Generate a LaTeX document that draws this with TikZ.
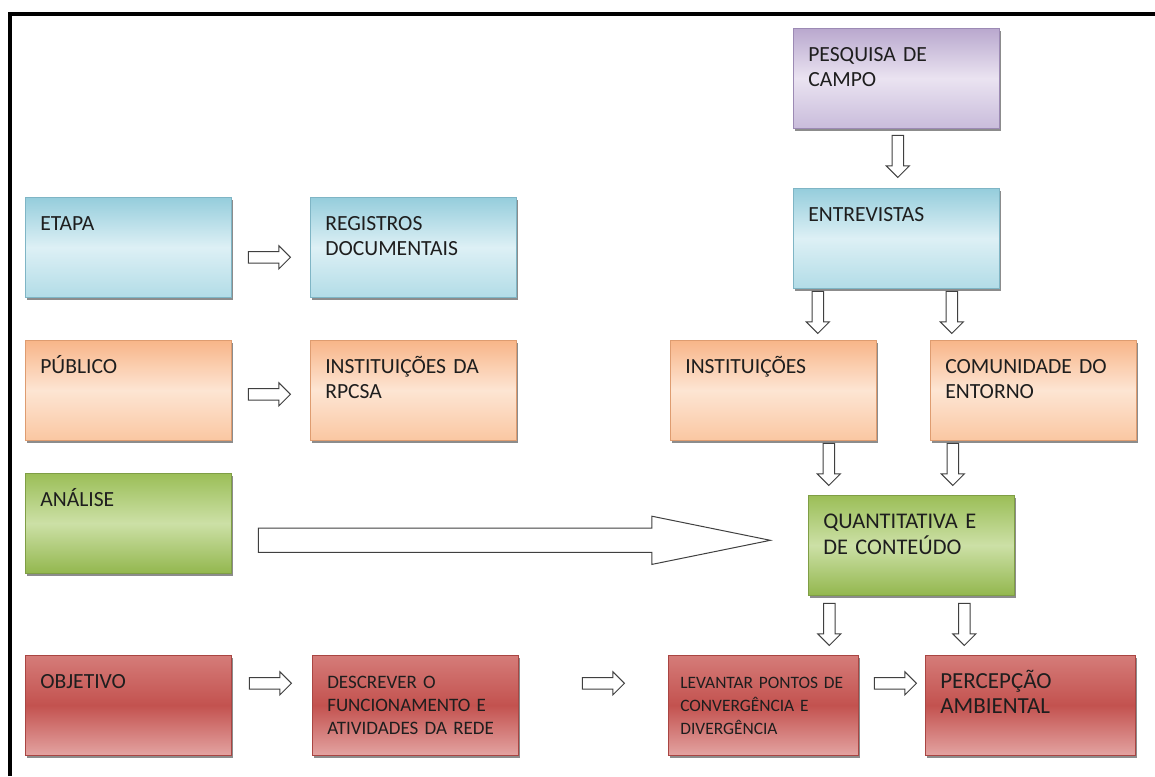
\documentclass[tikz,border=0pt]{standalone}
\usepackage{fontspec}
\setmainfont{Carlito}
\usetikzlibrary{shapes.arrows,shadows}

\definecolor{txtgrey}{HTML}{1E1E1E}
\definecolor{lineg}{HTML}{404040}

\tikzset{
	stage/.style={
			rectangle, anchor=north west, align=left,
			text width=88pt, inner xsep=7.5pt, inner ysep=9.5pt,
			text height=7pt, text depth=24pt,
			font=\fontsize{10.8}{12.5}\selectfont, text=txtgrey,
			line width=0.3pt,
			drop shadow={shadow xshift=0.8pt, shadow yshift=-1.4pt, fill=black!60, opacity=0.75}
		},
	lilac/.style={stage, draw=lilacE, top color=lilacA, bottom color=lilacB, middle color=lilacC},
	sky/.style={stage, draw=skyE, top color=skyA, bottom color=skyB, middle color=skyC},
	peach/.style={stage, draw=peachE, top color=peachA, bottom color=peachB, middle color=peachC},
	olive/.style={stage, draw=oliveE, top color=oliveA, bottom color=oliveB, middle color=oliveC},
	brick/.style={stage, draw=brickE, top color=brickA, bottom color=brickB, middle color=brickC},
	flow/.style={
			single arrow, draw=lineg, fill=white, line width=0.5pt,
			minimum height=21pt, minimum width=11pt, inner xsep=0pt, inner ysep=2.6pt,
			single arrow head extend=2.9pt
		},
	downflow/.style={flow, rotate=-90},
	longflow/.style={flow, minimum height=256pt, minimum width=23.5pt, inner ysep=5.8pt,
			single arrow head extend=6pt, single arrow tip angle=23}
}

\definecolor{lilacA}{HTML}{B9A8CE}
\definecolor{lilacB}{HTML}{C9BCDB}
\definecolor{lilacC}{HTML}{EAE3F1}
\definecolor{lilacE}{HTML}{9C8AB4}
\definecolor{skyA}{HTML}{95CDDC}
\definecolor{skyB}{HTML}{B2DCE7}
\definecolor{skyC}{HTML}{DDF0F5}
\definecolor{skyE}{HTML}{7FB5C5}
\definecolor{peachA}{HTML}{F8B588}
\definecolor{peachB}{HTML}{FAC7A2}
\definecolor{peachC}{HTML}{FDE5D3}
\definecolor{peachE}{HTML}{DE9C70}
\definecolor{oliveA}{HTML}{9BBE57}
\definecolor{oliveB}{HTML}{93B74E}
\definecolor{oliveC}{HTML}{CCE0A6}
\definecolor{oliveE}{HTML}{7F9E45}
\definecolor{brickA}{HTML}{D57C79}
\definecolor{brickB}{HTML}{E3A3A1}
\definecolor{brickC}{HTML}{C3524F}
\definecolor{brickE}{HTML}{A94542}

\begin{document}
\begin{tikzpicture}[x=0.5pt, y=-0.5pt]
	\useasboundingbox (0,0) rectangle (1155,776);
	\draw[line width=2pt] (10,776) -- (10,14) -- (1155,14);

	% left column
	\node[sky] (etapa) at (25,197) {ETAPA};
	\node[peach] (publico) at (25,340) {PÚBLICO};
	\node[olive] (analise) at (25,473) {ANÁLISE};
	\node[brick] (objetivo) at (25,655) {OBJETIVO};

	% middle column
	\node[sky] (registros) at (310,197) {REGISTROS\\DOCUMENTAIS};
	\node[peach] (rpcsa) at (310,340) {INSTITUIÇÕES DA\\RPCSA};
	\node[brick, font=\fontsize{9.5}{11.5}\selectfont] (descrever) at (312,655) {DESCREVER O\\FUNCIONAMENTO E\\ATIVIDADES DA REDE};

	% right part
	\node[lilac] (pesquisa) at (793,28) {PESQUISA DE\\CAMPO};
	\node[sky] (entrevistas) at (793,188) {ENTREVISTAS};
	\node[peach] (instit) at (670,340) {INSTITUIÇÕES};
	\node[peach] (comunid) at (930,340) {COMUNIDADE DO\\ENTORNO};
	\node[olive, font=\fontsize{11.2}{13}\selectfont] (quanti) at (808,495) {QUANTITATIVA E\\DE CONTEÚDO};
	\node[brick, text width=83pt, inner xsep=6pt, font=\fontsize{8.7}{11.5}\selectfont] (levantar) at (668,655) {LEVANTAR PONTOS DE\\CONVERGÊNCIA E\\DIVERGÊNCIA};
	\node[brick, text width=90pt, font=\fontsize{11.5}{12.5}\selectfont] (percepcao) at (925,655) {PERCEPÇÃO\\AMBIENTAL};

	% arrows
	\path (etapa.east) ++(35,10) node[flow] (e1) {};
	\path (publico.east) ++(35,4) node[flow] (e2) {};
	\path (objetivo.east) ++(36,-22) node[flow] (e3) {};
	\path (descrever.east) ++(82,-22) node[flow] (e4) {};
	\path (levantar.east) ++(34,-22) node[flow] (e5) {};
	\path (analise.east) ++(253,17) node[longflow] (e6) {};
	\path (pesquisa.south) ++(1.5,25) node[downflow] (s1) {};
	\path (entrevistas.south) ++(-78.5,21) node[downflow] (s2) {};
	\path (entrevistas.south) ++(55.5,21) node[downflow] (s3) {};
	\path (instit.south) ++(55.5,21) node[downflow] (s4) {};
	\path (comunid.south) ++(-80.5,21) node[downflow] (s5) {};
	\path (quanti.south) ++(-82,26) node[downflow] (s6) {};
	\path (quanti.south) ++(53,26) node[downflow] (s7) {};
\end{tikzpicture}
\end{document}
